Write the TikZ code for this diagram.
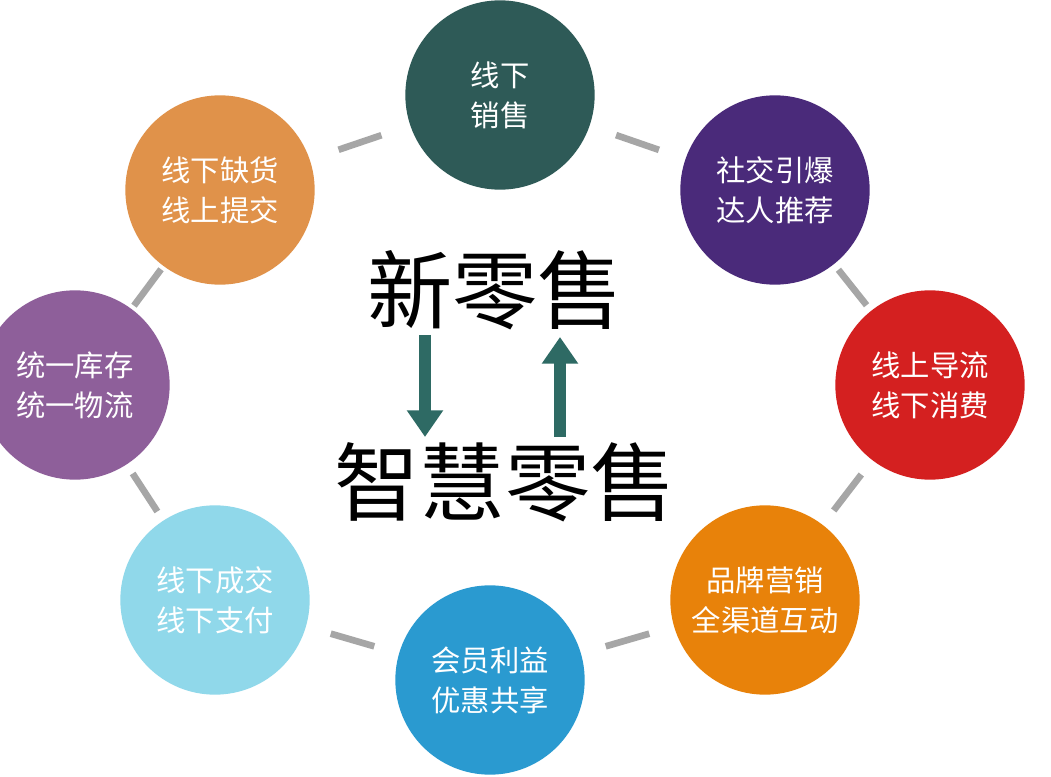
\documentclass[tikz,border=0pt]{standalone}
\usepackage{fontspec}
\newfontfamily\cjk{Noto Sans CJK SC}
\usetikzlibrary{arrows.meta,calc}
\definecolor{c1}{HTML}{2E5A57}
\definecolor{c2}{HTML}{4A2A7A}
\definecolor{c3}{HTML}{D42020}
\definecolor{c4}{HTML}{E8820A}
\definecolor{c5}{HTML}{2A9AD0}
\definecolor{c6}{HTML}{90D8EA}
\definecolor{c7}{HTML}{8E5F9A}
\definecolor{c8}{HTML}{E0924A}
\definecolor{arr}{HTML}{2E6A64}
\tikzset{
 bub/.style={circle,minimum size=142pt,inner sep=0pt,text=white,align=center,font=\cjk\fontsize{22}{30}\selectfont},
 conn/.style={draw=gray!70,line width=5pt},
 big/.style={font=\cjk\fontsize{64}{68}\selectfont,text=black},
 ar/.style={draw=arr,line width=9pt,-{Triangle[width=26pt,length=20pt]}}
}
\newcommand\linkbar[2]{\draw[conn] ($($(#1)!.5!(#2)$)!17pt!(#1)$) -- ($($(#1)!.5!(#2)$)!17pt!(#2)$);}
\begin{document}
\begin{tikzpicture}[x=0.75pt,y=-0.75pt]
\useasboundingbox[fill=white] (0,0) rectangle (1051,777);
\node[bub,fill=c1] (n1) at (500,95) {线下\\销售};
\node[bub,fill=c2] (n2) at (775,190) {社交引爆\\达人推荐};
\node[bub,fill=c3] (n3) at (930,385) {线上导流\\线下消费};
\node[bub,fill=c4] (n4) at (765,600) {品牌营销\\全渠道互动};
\node[bub,fill=c5] (n5) at (490,680) {会员利益\\优惠共享};
\node[bub,fill=c6] (n6) at (215,600) {线下成交\\线下支付};
\node[bub,fill=c7] (n7) at (75,385) {统一库存\\统一物流};
\node[bub,fill=c8] (n8) at (220,190) {线下缺货\\线上提交};
\linkbar{n1}{n2}\linkbar{n2}{n3}\linkbar{n3}{n4}\linkbar{n4}{n5}
\linkbar{n5}{n6}\linkbar{n6}{n7}\linkbar{n7}{n8}\linkbar{n8}{n1}
\node[big] (t1) at (495,290) {新零售};
\node[big] (t2) at (505,482) {智慧零售};
\coordinate (a1) at (425,335); \coordinate (a2) at (425,437);
\coordinate (b1) at (560,437); \coordinate (b2) at (560,337);
\draw[ar] (a1)--(a2);
\draw[ar] (b1)--(b2);
\end{tikzpicture}
\end{document}
